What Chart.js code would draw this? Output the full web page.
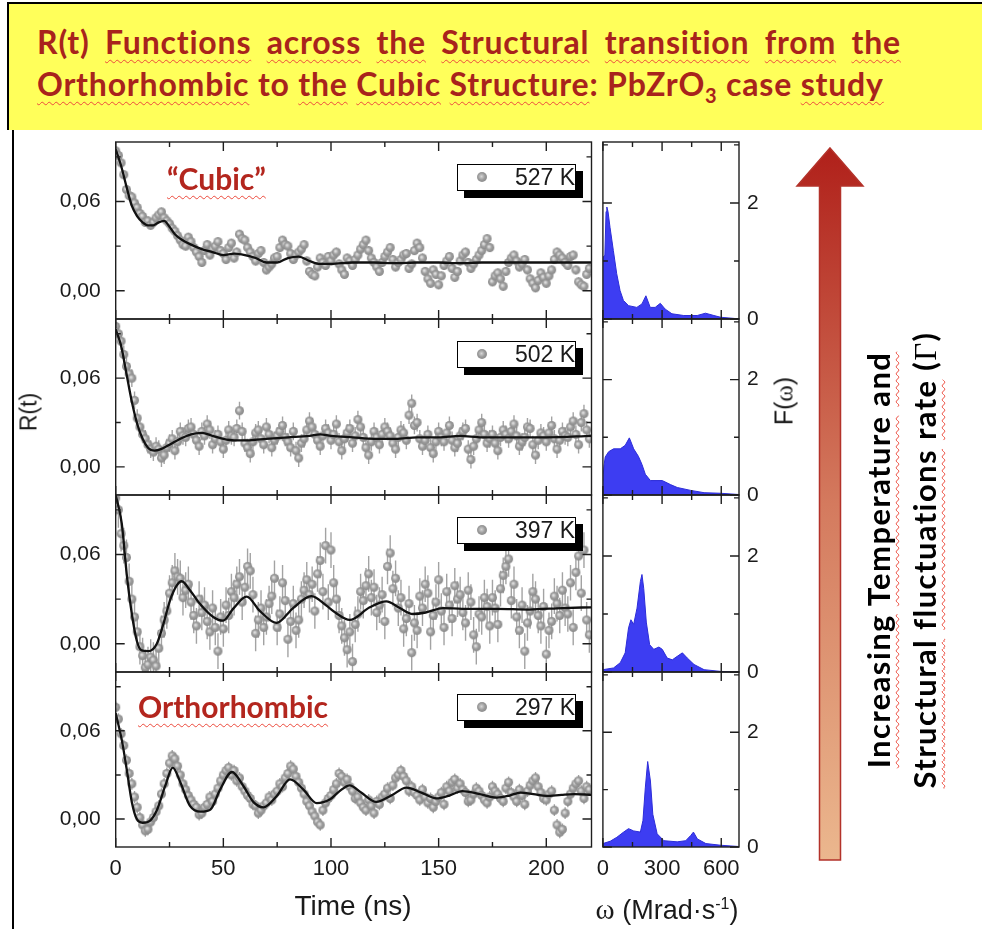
<!DOCTYPE html>
<html>
<head>
<meta charset="utf-8">
<script src="https://cdn.jsdelivr.net/npm/chart.js@4.4.1/dist/chart.umd.min.js"></script>
<style>
html, body { margin: 0; padding: 0; background: #fff; }
body { width: 982px; height: 929px; position: relative; overflow: hidden; font-family: "Liberation Sans", Arial, sans-serif; color: #1a1a1a; }
.abs { position: absolute; }
#titlebox { left: 7px; top: 2px; width: 975px; height: 128px; background: #ffff5a; border-left: 2px solid #000; border-top: 2px solid #000; box-sizing: border-box; }
.tline { position: absolute; font-family: Lato, "Open Sans", sans-serif; font-weight: 700; font-size: 32px; letter-spacing: 0.8px; color: #a8231c; white-space: nowrap; line-height: 38px; }
.sq { text-decoration: underline wavy #ec4a3c; text-decoration-thickness: 1px; text-underline-offset: 5px; text-decoration-skip-ink: none; }
.phase { position: absolute; font-family: Lato, "Open Sans", sans-serif; font-weight: 700; font-size: 30px; color: #b3261e; white-space: nowrap; line-height: 34px; }
.legend { position: absolute; left: 457px; width: 119px; height: 27px; background: #fff; border: 1.5px solid #000; box-sizing: border-box; box-shadow: 7px 7px 0 0 #000; font-size: 23px; line-height: 24px; text-align: right; }
.legend .dot { position: absolute; left: 19px; top: 7px; width: 10px; height: 10px; border-radius: 50%; background: radial-gradient(circle at 45% 45%, #d6d6d6 0, #9a9a9a 45%, #808080 100%); }
.rot { position: absolute; white-space: nowrap; transform: translate(-50%, -50%) rotate(-90deg); }
.axt { position: absolute; white-space: nowrap; transform: translate(-50%, -50%); }
#frameL { left: 12px; top: 130px; width: 2px; height: 799px; background: #000; }
</style>
</head>
<body>
<div id="titlebox" class="abs"></div>
<div class="tline" style="left:37px; top:23px; width:864px; display:flex; justify-content:space-between;">
  <span>R(t)</span><span class="sq">Functions</span><span class="sq">across</span><span class="sq">the</span><span class="sq">Structural</span><span class="sq">transition</span><span class="sq">from</span><span class="sq">the</span>
</div>
<div class="tline" style="left:37px; top:65px;">
  <span class="sq">Orthorhombic</span> to <span class="sq">the</span> <span class="sq">Cubic</span> <span class="sq">Structure</span>: PbZrO<sub style="font-size:20px">3</sub> case <span class="sq">study</span>
</div>
<div id="frameL" class="abs"></div>

<canvas id="r0" class="abs"></canvas>
<canvas id="r1" class="abs"></canvas>
<canvas id="r2" class="abs"></canvas>
<canvas id="r3" class="abs"></canvas>
<canvas id="f0" class="abs"></canvas>
<canvas id="f1" class="abs"></canvas>
<canvas id="f2" class="abs"></canvas>
<canvas id="f3" class="abs"></canvas>

<div class="phase" style="left:167px; top:161px;"><span class="sq">“Cubic”</span></div>
<div class="phase" style="left:138px; top:689px;"><span class="sq">Orthorhombic</span></div>

<div id="legends"></div>

<div class="rot" style="left:29px; top:412px; font-size:23px;">R(t)</div>
<div class="rot" style="left:784px; top:401px; font-size:25px;">F(<span style="font-family:'Liberation Serif',serif">ω</span>)</div>
<div class="axt" style="left:353px; top:906px; font-size:28px;">Time (ns)</div>
<div class="axt" style="left:667px; top:909px; font-size:27px;"><span style="font-family:'Liberation Serif',serif;font-size:29px">ω</span> (Mrad·s<sup style="font-size:16px">-1</sup>)</div>

<svg class="abs" style="left:0; top:0;" width="982" height="929">
  <defs>
    <linearGradient id="arrowGrad" x1="0" y1="0" x2="0" y2="1">
      <stop offset="0" stop-color="#b0201a"/>
      <stop offset="0.5" stop-color="#d47a5e"/>
      <stop offset="1" stop-color="#ebb78e"/>
    </linearGradient>
  </defs>
  <polygon points="830,148 863,186 840.5,186 840.5,860 819.5,860 819.5,186 797,186" fill="url(#arrowGrad)" stroke="#b3322a" stroke-width="1.5"/>
</svg>

<div class="rot" style="left:902px; top:560px; font-family:Lato,'Open Sans',sans-serif; font-weight:700; font-size:31px; letter-spacing:1.4px; line-height:46px; text-align:center; color:#000;">
  <div><span class="sq">Increasing</span> <span class="sq">Temperature</span> <span class="sq">and</span></div>
  <div><span class="sq">Structural</span> <span class="sq">fluctuations</span> <span class="sq">rate</span> (<span style="font-family:'Liberation Serif',serif;font-weight:400">Γ</span>)</div>
</div>

<script>
// ---------------- data ----------------
// R(t) sampling times (ns)
const tGrid = [
  0, 1.25, 2.5, 3.75, 5, 6.25, 7.5, 8.75, 10, 11.25, 12.5, 13.75, 15, 16.25, 17.5, 18.75, 20, 21.25, 22.5, 23.75,
  25, 26.25, 27.5, 28.75, 30, 31.25, 32.5, 33.75, 35, 36.25, 37.5, 38.75, 40, 41.25, 42.5, 43.75, 45, 46.25, 47.5, 48.75,
  50, 51.25, 52.5, 53.75, 55, 56.25, 57.5, 58.75, 60, 61.25, 62.5, 63.75, 65, 66.25, 67.5, 68.75, 70, 71.25, 72.5, 73.75,
  75, 76.25, 77.5, 78.75, 80, 81.25, 82.5, 83.75, 85, 86.25, 87.5, 88.75, 90, 91.25, 92.5, 93.75, 95, 96.25, 97.5, 98.75,
  100, 101.25, 102.5, 103.75, 105, 106.25, 107.5, 108.75, 110, 111.25, 112.5, 113.75, 115, 116.25, 117.5, 118.75, 120, 121.25, 122.5, 123.75,
  125, 126.25, 127.5, 128.75, 130, 131.25, 132.5, 133.75, 135, 136.25, 137.5, 138.75, 140, 141.25, 142.5, 143.75, 145, 146.25, 147.5, 148.75,
  150, 151.25, 152.5, 153.75, 155, 156.25, 157.5, 158.75, 160, 161.25, 162.5, 163.75, 165, 166.25, 167.5, 168.75, 170, 171.25, 172.5, 173.75,
  175, 176.25, 177.5, 178.75, 180, 181.25, 182.5, 183.75, 185, 186.25, 187.5, 188.75, 190, 191.25, 192.5, 193.75, 195, 196.25, 197.5, 198.75,
  200, 201.25, 202.5, 203.75, 205, 206.25, 207.5, 208.75, 210, 211.25, 212.5, 213.75, 215, 216.25, 217.5, 218.75, 220
];

// measured R(t) points
const r527 = [
  0.094, 0.091, 0.086, 0.078, 0.068, 0.064, 0.063, 0.059, 0.056, 0.052, 0.050, 0.046, 0.047, 0.044, 0.046, 0.049, 0.051, 0.053, 0.049, 0.047,
  0.045, 0.042, 0.040, 0.037, 0.034, 0.031, 0.030, 0.036, 0.033, 0.029, 0.026, 0.023, 0.019, 0.027, 0.031, 0.024, 0.028, 0.030, 0.033, 0.027,
  0.025, 0.021, 0.029, 0.032, 0.022, 0.026, 0.038, 0.035, 0.034, 0.029, 0.026, 0.023, 0.020, 0.025, 0.027, 0.019, 0.014, 0.016, 0.018, 0.022,
  0.023, 0.029, 0.034, 0.031, 0.030, 0.025, 0.021, 0.024, 0.026, 0.028, 0.031, 0.020, 0.013, 0.011, 0.010, 0.016, 0.022, 0.019, 0.017, 0.023,
  0.020, 0.024, 0.026, 0.018, 0.014, 0.011, 0.022, 0.020, 0.017, 0.021, 0.024, 0.028, 0.031, 0.034, 0.027, 0.022, 0.019, 0.016, 0.013, 0.019,
  0.023, 0.026, 0.029, 0.021, 0.016, 0.019, 0.021, 0.024, 0.025, 0.015, 0.018, 0.027, 0.032, 0.029, 0.022, 0.013, 0.008, 0.005, 0.014, 0.011,
  0.004, 0.010, 0.017, 0.020, 0.023, 0.015, 0.009, 0.013, 0.020, 0.024, 0.026, 0.019, 0.015, 0.018, 0.021, 0.024, 0.027, 0.031, 0.035, 0.029,
  0.006, 0.010, 0.012, 0.008, 0.003, 0.013, 0.019, 0.022, 0.024, 0.020, 0.016, 0.018, 0.021, 0.014, 0.008, 0.005, 0.002, 0.007, 0.012, 0.009,
  0.005, 0.010, 0.014, 0.021, 0.026, 0.024, 0.022, 0.019, 0.017, 0.023, 0.024, 0.014, 0.006, 0.004, 0.003, 0.011, 0.015
];
const r502 = [
  0.095, 0.090, 0.085, 0.076, 0.068, 0.063, 0.060, 0.045, 0.033, 0.027, 0.022, 0.019, 0.015, 0.012, 0.010, 0.014, 0.012, 0.006, 0.008, 0.013,
  0.016, 0.019, 0.011, 0.017, 0.024, 0.021, 0.020, 0.026, 0.027, 0.022, 0.018, 0.014, 0.024, 0.021, 0.029, 0.025, 0.015, 0.019, 0.022, 0.017,
  0.012, 0.018, 0.025, 0.021, 0.020, 0.026, 0.038, 0.024, 0.016, 0.013, 0.009, 0.017, 0.023, 0.025, 0.019, 0.015, 0.027, 0.022, 0.013, 0.018,
  0.021, 0.024, 0.028, 0.020, 0.017, 0.013, 0.024, 0.011, 0.006, 0.016, 0.019, 0.025, 0.031, 0.027, 0.022, 0.018, 0.014, 0.021, 0.026, 0.023,
  0.018, 0.022, 0.029, 0.017, 0.011, 0.019, 0.023, 0.026, 0.016, 0.021, 0.032, 0.027, 0.020, 0.013, 0.008, 0.017, 0.024, 0.020, 0.015, 0.022,
  0.027, 0.024, 0.021, 0.016, 0.012, 0.020, 0.025, 0.023, 0.018, 0.035, 0.043, 0.028, 0.030, 0.019, 0.014, 0.018, 0.022, 0.013, 0.009, 0.017,
  0.024, 0.020, 0.017, 0.023, 0.028, 0.018, 0.013, 0.016, 0.021, 0.024, 0.026, 0.012, 0.005, 0.014, 0.019, 0.025, 0.030, 0.022, 0.016, 0.019,
  0.022, 0.016, 0.011, 0.020, 0.025, 0.022, 0.019, 0.024, 0.029, 0.021, 0.014, 0.017, 0.020, 0.027, 0.026, 0.015, 0.008, 0.018, 0.023, 0.021,
  0.017, 0.023, 0.028, 0.019, 0.012, 0.018, 0.024, 0.021, 0.020, 0.027, 0.031, 0.022, 0.015, 0.030, 0.036, 0.025, 0.019
];
const r397 = [
  0.098, 0.090, 0.074, 0.066, 0.058, 0.042, 0.030, 0.018, 0.008, -0.002, -0.008, -0.016, -0.014, -0.009, -0.011, -0.015, -0.003, 0.007, 0.016, 0.022,
  0.034, 0.041, 0.049, 0.045, 0.044, 0.031, 0.036, 0.040, 0.028, 0.019, 0.012, 0.030, 0.021, 0.026, 0.015, 0.008, 0.024, 0.011, -0.005, 0.018,
  0.010, 0.026, 0.019, 0.035, 0.031, 0.040, 0.045, 0.028, 0.038, 0.052, 0.049, 0.033, 0.007, 0.016, 0.024, 0.011, 0.018, 0.027, 0.032, 0.044,
  0.011, 0.020, 0.041, 0.029, 0.003, 0.015, 0.027, 0.009, 0.016, 0.030, 0.036, 0.043, 0.033, 0.040, 0.022, 0.047, 0.056, 0.035, 0.066, 0.028,
  0.063, 0.041, 0.030, 0.019, 0.012, 0.004, -0.004, 0.008, -0.012, 0.013, 0.020, 0.035, 0.029, 0.039, 0.047, 0.031, 0.038, 0.021, 0.026, 0.033,
  0.015, 0.052, 0.061, 0.037, 0.044, 0.024, 0.031, 0.010, 0.017, 0.027, -0.006, 0.014, 0.009, 0.032, 0.024, 0.040, 0.034, 0.008, 0.019, 0.028,
  0.043, 0.022, 0.011, 0.035, 0.026, 0.017, 0.039, 0.030, 0.033, 0.021, 0.014, 0.036, 0.028, 0.006, -0.002, 0.020, 0.018, 0.031, 0.025, 0.012,
  0.031, 0.024, 0.013, 0.037, 0.046, 0.052, 0.057, 0.029, 0.040, 0.018, 0.009, 0.026, -0.005, 0.014, 0.022, 0.035, 0.030, 0.019, 0.012, 0.025,
  -0.007, 0.009, 0.015, 0.032, 0.027, 0.019, 0.036, 0.024, 0.020, 0.041, 0.011, 0.048, 0.059, 0.034, 0.063, 0.016, 0.006
];
const r297 = [
  0.076, 0.068, 0.058, 0.050, 0.040, 0.031, 0.024, 0.015, 0.008, 0.001, -0.004, -0.008, -0.007, -0.002, 0.001, 0.005, 0.009, 0.017, 0.024, 0.031,
  0.038, 0.043, 0.041, 0.036, 0.030, 0.024, 0.020, 0.016, 0.013, 0.010, 0.008, 0.003, 0.004, 0.008, 0.010, 0.015, 0.012, 0.017, 0.021, 0.026,
  0.030, 0.033, 0.035, 0.030, 0.033, 0.026, 0.028, 0.022, 0.019, 0.016, 0.014, 0.010, 0.009, 0.004, 0.006, 0.009, 0.011, 0.015, 0.013, 0.017,
  0.019, 0.024, 0.022, 0.028, 0.031, 0.036, 0.034, 0.029, 0.025, 0.021, 0.017, 0.012, 0.009, 0.005, 0.002, -0.002, -0.004, 0.006, 0.011, 0.014,
  0.016, 0.020, 0.024, 0.031, 0.029, 0.025, 0.027, 0.022, 0.019, 0.014, 0.015, 0.011, 0.008, 0.006, 0.013, 0.009, 0.004, 0.012, 0.010, 0.015,
  0.017, 0.021, 0.014, 0.023, 0.028, 0.030, 0.033, 0.029, 0.026, 0.019, 0.022, 0.018, 0.016, 0.013, 0.020, 0.015, 0.011, 0.014, 0.008, 0.012,
  0.015, 0.018, 0.010, 0.022, 0.019, 0.025, 0.027, 0.021, 0.024, 0.020, 0.018, 0.012, 0.013, 0.017, 0.021, 0.019, 0.016, 0.013, 0.011, 0.015,
  0.022, 0.019, 0.017, 0.014, 0.012, 0.021, 0.025, 0.018, 0.015, 0.012, 0.020, 0.016, 0.010, 0.019, 0.023, 0.026, 0.028, 0.022, 0.018, 0.014,
  0.013, 0.017, 0.019, 0.006, -0.004, -0.009, -0.007, 0.004, 0.012, 0.017, 0.021, 0.024, 0.026, 0.019, 0.014, 0.022, 0.020
];
// error bar half-heights
const err527 = 0.003;
const err502 = 0.006;
const err397 = 0.012;
const err297 = 0.004;

// fitted curves (knots)
const fit527T = [0, 2.5, 5, 7.5, 10, 12.5, 15, 17.5, 20, 22.5, 25, 27.5, 30, 35, 40, 45, 50, 55, 60, 65, 70, 75, 80, 85, 90, 95, 100, 110, 120, 130, 140, 150, 160, 170, 180, 190, 200, 210, 221];
const fit527V = [0.095, 0.084, 0.070, 0.057, 0.050, 0.046, 0.044, 0.044, 0.046, 0.047, 0.043, 0.038, 0.035, 0.031, 0.028, 0.026, 0.024, 0.025, 0.024, 0.022, 0.019, 0.019, 0.022, 0.023, 0.020, 0.018, 0.018, 0.019, 0.019, 0.0185, 0.019, 0.019, 0.0185, 0.019, 0.019, 0.019, 0.019, 0.019, 0.019];
const fit502T = [0, 2.5, 5, 7.5, 10, 12.5, 15, 18, 21, 25, 30, 35, 40, 45, 50, 55, 62, 70, 80, 90, 95, 100, 110, 120, 130, 140, 150, 160, 170, 180, 200, 221];
const fit502V = [0.093, 0.082, 0.063, 0.044, 0.029, 0.019, 0.013, 0.011, 0.012, 0.015, 0.019, 0.022, 0.023, 0.021, 0.019, 0.018, 0.018, 0.019, 0.020, 0.021, 0.022, 0.021, 0.020, 0.019, 0.019, 0.020, 0.020, 0.021, 0.020, 0.020, 0.020, 0.021];
const fit397T = [0, 2.8, 5.1, 7.5, 9.8, 12, 15.2, 19.1, 22.1, 25.2, 28.3, 30.6, 34.5, 39, 45.3, 49.9, 54.6, 60.8, 67, 74.7, 82.4, 90.9, 97.9, 102, 108.7, 118, 125.7, 132, 138, 144, 152, 161, 177, 192, 207.6, 221];
const fit397V = [0.100, 0.081, 0.047, 0.020, 0.002, -0.0045, -0.005, 0.0, 0.013, 0.029, 0.039, 0.042, 0.036, 0.027, 0.018, 0.0155, 0.0236, 0.0317, 0.022, 0.014, 0.024, 0.032, 0.0256, 0.021, 0.016, 0.0245, 0.0285, 0.024, 0.020, 0.021, 0.024, 0.0235, 0.0235, 0.023, 0.024, 0.0245];
const fit297T = [0, 2.8, 5.1, 7.5, 9.8, 12.5, 16, 19, 23, 26.5, 30, 34.5, 39.5, 44, 48.5, 54, 59.3, 64, 68.6, 74.8, 81, 87.2, 93.4, 99.6, 104, 108.7, 114, 121, 128, 135, 142, 149, 155, 161, 169, 177, 183, 188, 194, 200, 207, 213, 221];
const fit297V = [0.072, 0.054, 0.034, 0.0115, 0.0, -0.0025, -0.001, 0.0056, 0.0225, 0.035, 0.025, 0.009, 0.005, 0.0065, 0.020, 0.032, 0.0225, 0.0115, 0.008, 0.0157, 0.027, 0.020, 0.0108, 0.0135, 0.019, 0.0229, 0.018, 0.0117, 0.016, 0.0214, 0.018, 0.014, 0.016, 0.019, 0.017, 0.0146, 0.016, 0.018, 0.017, 0.0157, 0.0165, 0.017, 0.0165];

// frequency distributions F(w), w in Mrad/s
const w527 = [0, 10, 16, 20, 26, 36, 53, 70, 87, 104, 130, 172, 198, 218, 240, 265, 291, 316, 350, 410, 478, 520, 563, 597, 665, 690];
const f527 = [1.06, 1.10, 1.85, 1.93, 1.85, 1.58, 1.18, 0.78, 0.49, 0.32, 0.23, 0.20, 0.26, 0.40, 0.20, 0.20, 0.27, 0.17, 0.09, 0.06, 0.06, 0.10, 0.06, 0.03, 0.01, 0.0];
const w502 = [0, 5, 12, 29, 54, 88, 113, 134, 147, 156, 180, 198, 215, 241, 301, 343, 377, 445, 513, 598, 683, 690];
const f502 = [0.24, 0.50, 0.66, 0.75, 0.80, 0.80, 0.86, 0.99, 0.88, 0.80, 0.67, 0.53, 0.36, 0.25, 0.25, 0.18, 0.13, 0.08, 0.04, 0.03, 0.01, 0.0];
const w397 = [0, 54, 88, 113, 130, 142, 156, 173, 190, 198, 207, 220, 237, 258, 284, 301, 326, 352, 377, 403, 428, 462, 513, 598, 690];
const f397 = [0.04, 0.07, 0.16, 0.33, 0.76, 0.90, 0.82, 1.10, 1.56, 1.68, 1.44, 0.86, 0.47, 0.39, 0.43, 0.39, 0.24, 0.21, 0.27, 0.33, 0.24, 0.13, 0.04, 0.01, 0.0];
const w297 = [0, 37, 71, 105, 130, 156, 190, 203, 215, 227, 241, 253, 275, 309, 377, 420, 445, 459, 479, 522, 598, 683, 690];
const f297 = [0.06, 0.10, 0.17, 0.26, 0.32, 0.28, 0.26, 0.46, 1.03, 1.49, 1.15, 0.57, 0.23, 0.11, 0.09, 0.11, 0.20, 0.26, 0.14, 0.06, 0.03, 0.01, 0.0];

const temps = ["527 K", "502 K", "397 K", "297 K"];

// ticks
const tTicks = [0, 25, 50, 75, 100, 125, 150, 175, 200];
const tLabels = [0, 50, 100, 150, 200];
const rYTicks = [0, 0.03, 0.06, 0.09];
const rYLabels = [0, 0.06];
const wTicks = [0, 150, 300, 450, 600];
const wLabels = [0, 300, 600];
const fYTicks = [0, 1, 2, 3];
const fYLabels = [0, 2];

// ---------------- layout ----------------
const panelTop = [142, 319, 495, 672];
const panelBot = [319, 495, 672, 847];

const rSets = [
  { v: r527, err: err527, ft: fit527T, fv: fit527V },
  { v: r502, err: err502, ft: fit502T, fv: fit502V },
  { v: r397, err: err397, ft: fit397T, fv: fit397V },
  { v: r297, err: err297, ft: fit297T, fv: fit297V }
];
const fSets = [[w527, f527], [w502, f502], [w397, f397], [w297, f297]];

Chart.defaults.font.family = '"Liberation Sans", Arial, sans-serif';
Chart.defaults.color = '#1a1a1a';

// shaded grey ball used as marker
function makeBall(r) {
  const c = document.createElement('canvas');
  c.width = c.height = 2 * r + 2;
  const g = c.getContext('2d');
  const grad = g.createRadialGradient(r, r, 0.5, r + 1, r + 1, r + 1);
  grad.addColorStop(0, '#e2e2e2');
  grad.addColorStop(0.4, '#a0a0a0');
  grad.addColorStop(1, '#7e7e7e');
  g.fillStyle = grad;
  g.beginPath();
  g.arc(r + 1, r + 1, r, 0, Math.PI * 2);
  g.fill();
  return c;
}
const ball = makeBall(4.5);

// box around plot + inward ticks on all four sides
const frameTicks = {
  id: 'frameTicks',
  afterDraw(chart, args, o) {
    const { ctx, chartArea: a } = chart;
    const x = chart.scales.x, y = chart.scales.y;
    ctx.save();
    ctx.strokeStyle = '#1e1e1e';
    ctx.lineWidth = 1.4;
    ctx.beginPath();
    x.ticks.forEach(t => {
      const p = x.getPixelForValue(t.value);
      const l = o.xMajor.includes(t.value) ? 9 : 5;
      ctx.moveTo(p, a.top); ctx.lineTo(p, a.top + l);
      ctx.moveTo(p, a.bottom); ctx.lineTo(p, a.bottom - l);
    });
    y.ticks.forEach(t => {
      const p = y.getPixelForValue(t.value);
      const l = o.yMajor.includes(t.value) ? 9 : 5;
      ctx.moveTo(a.left, p); ctx.lineTo(a.left + l, p);
      ctx.moveTo(a.right, p); ctx.lineTo(a.right - l, p);
    });
    ctx.stroke();
    ctx.strokeRect(a.left, a.top, a.right - a.left, a.bottom - a.top);
    ctx.restore();
  }
};

// vertical error bars under the points
const errorBars = {
  id: 'errorBars',
  beforeDatasetsDraw(chart) {
    const ds = chart.data.datasets.find(d => d.err);
    if (!ds) return;
    const { ctx, chartArea: a } = chart;
    const x = chart.scales.x, y = chart.scales.y;
    ctx.save();
    ctx.beginPath();
    ctx.rect(a.left, a.top, a.right - a.left, a.bottom - a.top);
    ctx.clip();
    ctx.strokeStyle = '#a3a3a3';
    ctx.lineWidth = 1.4;
    ctx.beginPath();
    ds.data.forEach(p => {
      const px = x.getPixelForValue(p.x);
      ctx.moveTo(px, y.getPixelForValue(p.y - ds.err));
      ctx.lineTo(px, y.getPixelForValue(p.y + ds.err));
    });
    ctx.stroke();
    ctx.restore();
  }
};

const noGrid = { display: false, drawTicks: false, tickLength: 0 };

// fixed axis size, and no label overhang padding, so the plot box lands exactly
function fixSize(w, h) {
  return sc => {
    if (w !== null) sc.width = w;
    if (h !== null) sc.height = h;
    sc.paddingTop = 0;
    sc.paddingBottom = 0;
    sc.paddingLeft = 0;
    sc.paddingRight = 0;
  };
}

function place(canvas, left, top, w, h) {
  canvas.width = w;
  canvas.height = h;
  canvas.style.left = left + 'px';
  canvas.style.top = top + 'px';
}

// R(t) panels
rSets.forEach((s, i) => {
  const last = i === 3;
  const xH = last ? 45 : 12;
  const el = document.getElementById('r' + i);
  place(el, 0, panelTop[i] - 12, 600, 12 + panelBot[i] - panelTop[i] + xH);
  new Chart(el, {
    type: 'scatter',
    data: {
      datasets: [
        {
          type: 'line',
          data: s.ft.map((t, k) => ({ x: t, y: s.fv[k] })),
          borderColor: '#111',
          borderWidth: 2.3,
          pointRadius: 0,
          cubicInterpolationMode: 'monotone',
          fill: false
        },
        {
          type: 'scatter',
          data: tGrid.map((t, k) => ({ x: t, y: s.v[k] })),
          err: s.err,
          pointStyle: ball,
          pointRadius: 5
        }
      ]
    },
    options: {
      responsive: false,
      animation: false,
      events: [],
      layout: { autoPadding: false, padding: { top: 12, right: 8.5, left: 0, bottom: 0 } },
      plugins: {
        legend: { display: false },
        tooltip: { enabled: false },
        frameTicks: { xMajor: tLabels, yMajor: rYLabels }
      },
      scales: {
        x: {
          type: 'linear', min: 0, max: 221,
          afterBuildTicks: sc => { sc.ticks = tTicks.map(v => ({ value: v })); },
          afterFit: fixSize(null, xH),
          grid: noGrid,
          border: { display: false },
          ticks: {
            display: last, autoSkip: false, maxRotation: 0, padding: 9,
            font: { size: 22 },
            callback: v => tLabels.includes(v) ? String(v) : ''
          }
        },
        y: {
          type: 'linear', min: -0.019, max: 0.1,
          afterBuildTicks: sc => { sc.ticks = rYTicks.map(v => ({ value: v })); },
          afterFit: fixSize(115.7, null),
          grid: noGrid,
          border: { display: false },
          ticks: {
            autoSkip: false, padding: 15,
            font: { size: 21 },
            callback: v => rYLabels.includes(v) ? v.toFixed(2).replace('.', ',') : ''
          }
        }
      }
    },
    plugins: [errorBars, frameTicks]
  });
});

// F(w) panels
fSets.forEach((s, i) => {
  const last = i === 3;
  const xH = last ? 45 : 12;
  const el = document.getElementById('f' + i);
  place(el, 596, panelTop[i] - 12, 188, 12 + panelBot[i] - panelTop[i] + xH);
  new Chart(el, {
    type: 'line',
    data: {
      datasets: [{
        data: s[0].map((w, k) => ({ x: w, y: s[1][k] })),
        fill: 'origin',
        backgroundColor: '#3d3df2',
        borderColor: '#2c2cd8',
        borderWidth: 1,
        pointRadius: 0,
        tension: 0
      }]
    },
    options: {
      responsive: false,
      animation: false,
      events: [],
      layout: { autoPadding: false, padding: { top: 12, right: 0, left: 6.9, bottom: 0 } },
      plugins: {
        legend: { display: false },
        tooltip: { enabled: false },
        frameTicks: { xMajor: wLabels, yMajor: fYLabels }
      },
      scales: {
        x: {
          type: 'linear', min: 0, max: 690,
          afterBuildTicks: sc => { sc.ticks = wTicks.map(v => ({ value: v })); },
          afterFit: fixSize(null, xH),
          grid: noGrid,
          border: { display: false },
          ticks: {
            display: last, autoSkip: false, maxRotation: 0, padding: 9,
            font: { size: 22 },
            callback: v => wLabels.includes(v) ? String(v) : ''
          }
        },
        y: {
          type: 'linear', position: 'right', min: 0, max: 3.05,
          afterBuildTicks: sc => { sc.ticks = fYTicks.map(v => ({ value: v })); },
          afterFit: fixSize(45, null),
          grid: noGrid,
          border: { display: false },
          ticks: {
            autoSkip: false, padding: 8,
            font: { size: 21 },
            callback: v => fYLabels.includes(v) ? String(v) : ''
          }
        }
      }
    },
    plugins: [frameTicks]
  });
});

// temperature legends (boxed, with drop shadow)
const lg = document.getElementById('legends');
temps.forEach((txt, i) => {
  const d = document.createElement('div');
  d.className = 'legend';
  d.style.top = (panelTop[i] + 22) + 'px';
  d.innerHTML = '<span class="dot"></span>' + txt;
  lg.appendChild(d);
});
</script>
</body>
</html>
